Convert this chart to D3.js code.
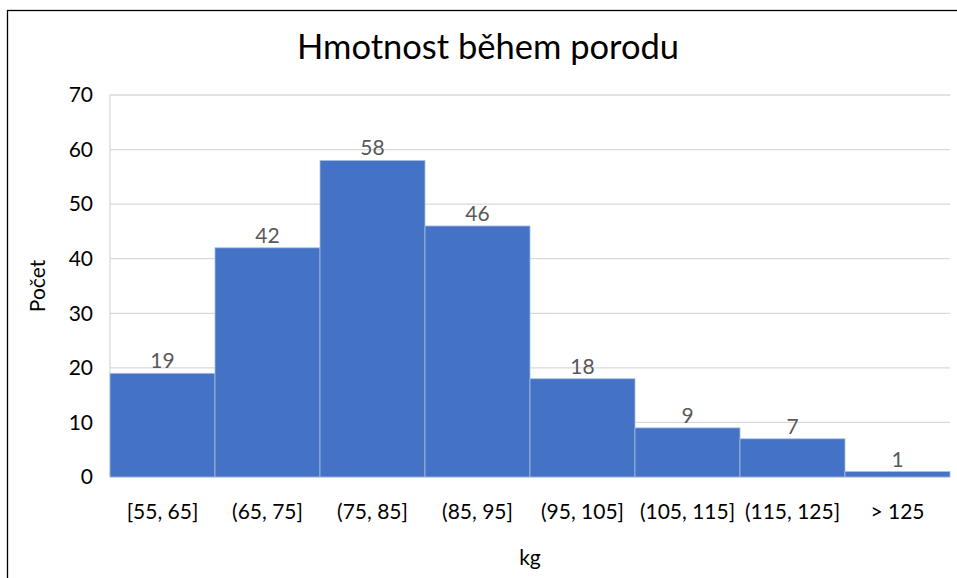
<!DOCTYPE html>
<html>
<head>
<meta charset="utf-8">
<script src="https://cdn.jsdelivr.net/npm/d3@7"></script>
<style>
  body { margin: 0; background: #fff; }
  text { font-family: Lato, "Open Sans", sans-serif; }
</style>
</head>
<body>
<svg id="chart" width="957" height="578"></svg>
<script>
// histogram bins and counts
const bins = ["[55, 65]", "(65, 75]", "(75, 85]", "(85, 95]", "(95, 105]", "(105, 115]", "(115, 125]", "> 125"];
const counts = [19, 42, 58, 46, 18, 9, 7, 1];
const yTicks = [0, 10, 20, 30, 40, 50, 60, 70];

const svg = d3.select("#chart");
const plotLeft = 110, plotRight = 950, plotTop = 95, plotBottom = 477;
const fs = 21;

// chart frame
svg.append("rect")
    .attr("x", 7.5).attr("y", 10.5)
    .attr("width", 960).attr("height", 580)
    .attr("fill", "none")
    .attr("stroke", "#000")
    .attr("stroke-width", 1.3);

const x = d3.scaleBand().domain(bins).range([plotLeft, plotRight]).padding(0);
const y = d3.scaleLinear().domain([0, 70]).range([plotBottom, plotTop]);

//gridlines
svg.append("g")
    .selectAll("line")
    .data(yTicks)
    .enter()
    .append("line")
    .attr("x1", plotLeft).attr("x2", plotRight)
    .attr("y1", d => y(d)).attr("y2", d => y(d))
    .attr("stroke", "#d9d9d9")
    .attr("stroke-width", 1.3);

// left vertical line of plot area
svg.append("line")
    .attr("x1", plotLeft).attr("x2", plotLeft)
    .attr("y1", plotTop).attr("y2", plotBottom)
    .attr("stroke", "#d9d9d9")
    .attr("stroke-width", 1.3);

//bars
svg.append("g")
    .selectAll("rect")
    .data(counts)
    .enter()
    .append("rect")
    .attr("x", (d, i) => x(bins[i]))
    .attr("y", d => y(d))
    .attr("width", x.bandwidth())
    .attr("height", d => y(0) - y(d))
    .attr("fill", "#4472c4")
    .attr("stroke", "#a9bde3")
    .attr("stroke-width", 0.8);

// value labels
svg.append("g")
    .selectAll("text")
    .data(counts)
    .enter()
    .append("text")
    .attr("x", (d, i) => x(bins[i]) + x.bandwidth() / 2)
    .attr("y", d => y(d) - 5)
    .attr("text-anchor", "middle")
    .attr("font-size", fs)
    .attr("fill", "#595959")
    .text(d => d);

// y axis
const yAxis = d3.axisLeft(y).tickValues(yTicks).tickSize(0).tickPadding(17);
const yg = svg.append("g").attr("transform", `translate(${plotLeft},0)`).call(yAxis);
yg.select(".domain").remove();
yg.selectAll("text").attr("font-size", fs).attr("fill", "#000").style("font-family", "Lato, 'Open Sans', sans-serif");

// x axis
const xAxis = d3.axisBottom(x).tickSize(0).tickPadding(27);
const xg = svg.append("g").attr("transform", `translate(0,${plotBottom})`).call(xAxis);
xg.select(".domain").remove();
xg.selectAll("text").attr("font-size", fs).attr("fill", "#000").style("font-family", "Lato, 'Open Sans', sans-serif");

// titles
svg.append("text")
    .attr("x", 488).attr("y", 59)
    .attr("text-anchor", "middle")
    .attr("font-size", 34.5)
    .attr("fill", "#000")
    .text("Hmotnost během porodu");

svg.append("text")
    .attr("x", (plotLeft + plotRight) / 2).attr("y", 565)
    .attr("text-anchor", "middle")
    .attr("font-size", fs)
    .attr("fill", "#000")
    .text("kg");

svg.append("text")
    .attr("transform", `translate(45,${(plotTop + plotBottom) / 2}) rotate(-90)`)
    .attr("text-anchor", "middle")
    .attr("font-size", fs)
    .attr("fill", "#000")
    .text("Počet");
</script>
</body>
</html>
